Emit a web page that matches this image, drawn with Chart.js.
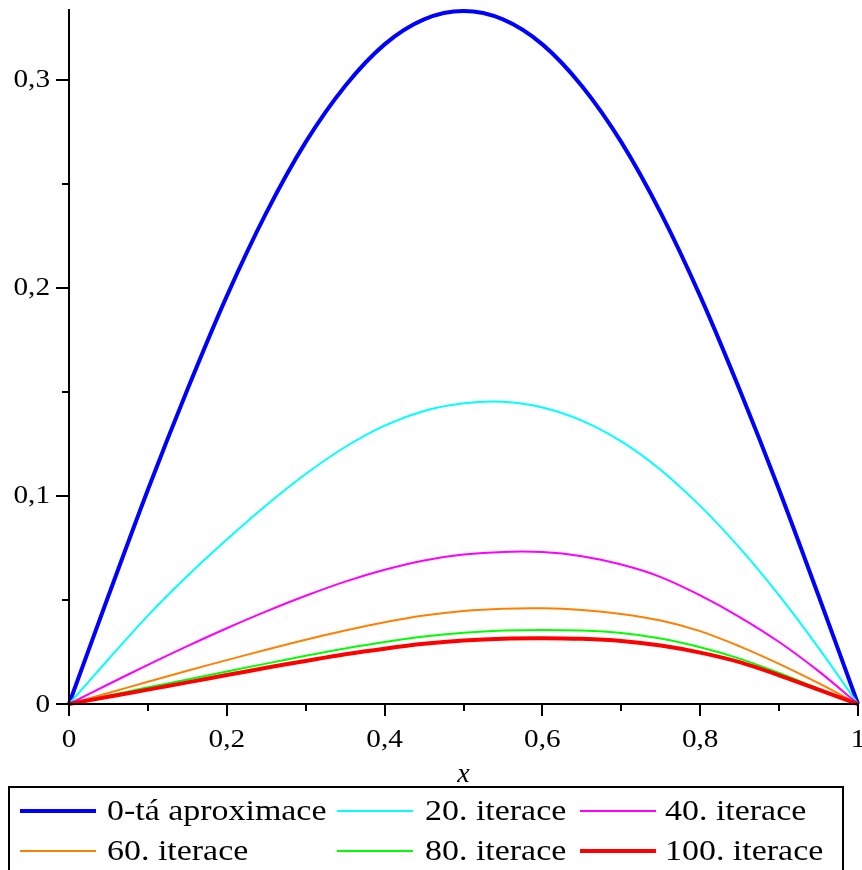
<!DOCTYPE html>
<html>
<head>
<meta charset="utf-8">
<script src="https://cdn.jsdelivr.net/npm/chart.js@4/dist/chart.umd.min.js"></script>
<style>
  html, body { margin: 0; padding: 0; background: #ffffff; }
  #wrap { width: 862px; height: 870px; position: relative; }
</style>
</head>
<body>
<div id="wrap"><canvas id="c" width="862" height="870"></canvas></div>
<script>
// ---- data ----
const xValues = [0, 0.05, 0.1, 0.15, 0.2, 0.25, 0.3, 0.35, 0.4, 0.45, 0.5, 0.55, 0.6, 0.65, 0.7, 0.75, 0.8, 0.85, 0.9, 0.95, 1];
const approx0  = [0, 0.052, 0.103, 0.151, 0.196, 0.236, 0.270, 0.297, 0.317, 0.329, 0.333, 0.329, 0.317, 0.297, 0.270, 0.236, 0.196, 0.151, 0.103, 0.052, 0];
const iter20   = [0, 0.0215, 0.0425, 0.0615, 0.0790, 0.0955, 0.1105, 0.1235, 0.1338, 0.1408, 0.1445, 0.1452, 0.1425, 0.1362, 0.1262, 0.1125, 0.0952, 0.0750, 0.0522, 0.0270, 0];
const iter40   = [0, 0.0095, 0.0188, 0.0278, 0.0364, 0.0445, 0.0520, 0.0588, 0.0645, 0.0690, 0.0718, 0.0731, 0.0730, 0.0710, 0.0670, 0.0610, 0.0522, 0.0418, 0.0298, 0.0158, 0];
const iter60   = [0, 0.0053, 0.0107, 0.0160, 0.0211, 0.0261, 0.0309, 0.0353, 0.0393, 0.0425, 0.0447, 0.0458, 0.0460, 0.0452, 0.0433, 0.0401, 0.0350, 0.0277, 0.0193, 0.0100, 0];
const iter80   = [0, 0.0040, 0.0080, 0.0118, 0.0156, 0.0194, 0.0232, 0.0267, 0.0298, 0.0324, 0.0342, 0.0353, 0.0356, 0.0353, 0.0341, 0.0315, 0.0273, 0.0218, 0.0149, 0.0074, 0];
const iter100  = [0, 0.0035, 0.0069, 0.0104, 0.0139, 0.0174, 0.0207, 0.0239, 0.0266, 0.0289, 0.0305, 0.0314, 0.0316, 0.0313, 0.0303, 0.0281, 0.0247, 0.0201, 0.0138, 0.0069, 0];
const seriesLabels = ["0-tá aproximace", "20. iterace", "40. iterace", "60. iterace", "80. iterace", "100. iterace"];
const xTickValues = [0, 0.2, 0.4, 0.6, 0.8, 1];
const xTickLabels = ["0", "0,2", "0,4", "0,6", "0,8", "1"];
const xMinorTicks = [0.1, 0.3, 0.5, 0.7, 0.9];
const yTickValues = [0, 0.1, 0.2, 0.3];
const yTickLabels = ["0", "0,1", "0,2", "0,3"];
const yMinorTicks = [0.05, 0.15, 0.25];
const xAxisTitle = "x";

const colors = ["#0000ff", "#00ffff", "#ff00ff", "#ff8000", "#00ff00", "#ff0000"];
const widths = [4, 2, 2, 2, 2, 4];
const seriesValues = [approx0, iter20, iter40, iter60, iter80, iter100];

const datasets = seriesValues.map((vals, i) => ({
  label: seriesLabels[i],
  data: xValues.map((x, j) => ({ x: x, y: vals[j] })),
  borderColor: colors[i],
  backgroundColor: colors[i],
  borderWidth: widths[i],
  pointRadius: 0,
  fill: false,
  tension: 0.33,
  clip: false,
  order: 6 - i
}));

const SERIF = '"Liberation Serif", "Times New Roman", serif';
const STRETCH = 1.17;

function stretchText(ctx, text, x, y, align) {
  ctx.save();
  const w = ctx.measureText(text).width * STRETCH;
  let left = x;
  if (align === 'center') left = x - w / 2;
  else if (align === 'right') left = x - w;
  ctx.translate(left, y);
  ctx.scale(STRETCH, 1);
  ctx.textAlign = 'left';
  ctx.fillText(text, 0, 0);
  ctx.restore();
}

const axesPlugin = {
  id: 'mapleAxes',
  afterDatasetsDraw(chart) {
    const ctx = chart.ctx;
    const xs = chart.scales.x, ys = chart.scales.y;
    const x0 = xs.getPixelForValue(0), x1 = xs.getPixelForValue(1);
    const y0 = ys.getPixelForValue(0), yTop = ys.getPixelForValue(ys.max);
    ctx.save();
    ctx.strokeStyle = '#000';
    ctx.lineWidth = 2;
    ctx.lineCap = 'butt';
    ctx.beginPath();
    ctx.moveTo(x0, yTop); ctx.lineTo(x0, y0 + 1);
    ctx.moveTo(x0 - 1, y0); ctx.lineTo(x1 + 1, y0);
    ctx.stroke();
    ctx.beginPath();
    xTickValues.forEach(v => { const p = Math.round(xs.getPixelForValue(v)); ctx.moveTo(p, y0); ctx.lineTo(p, y0 + 12); });
    xMinorTicks.forEach(v => { const p = Math.round(xs.getPixelForValue(v)); ctx.moveTo(p, y0); ctx.lineTo(p, y0 + 7); });
    yTickValues.forEach(v => { const p = Math.round(ys.getPixelForValue(v)); ctx.moveTo(x0, p); ctx.lineTo(x0 - 13, p); });
    yMinorTicks.forEach(v => { const p = Math.round(ys.getPixelForValue(v)); ctx.moveTo(x0, p); ctx.lineTo(x0 - 7, p); });
    ctx.stroke();
    ctx.fillStyle = '#000';
    ctx.font = '25px ' + SERIF;
    ctx.textBaseline = 'alphabetic';
    xTickValues.forEach((v, i) => stretchText(ctx, xTickLabels[i], xs.getPixelForValue(v), 747, 'center'));
    ctx.textBaseline = 'middle';
    yTickValues.forEach((v, i) => stretchText(ctx, yTickLabels[i], 50, ys.getPixelForValue(v) + 1, 'right'));
    ctx.font = 'italic 28px ' + SERIF;
    ctx.textAlign = 'center';
    ctx.textBaseline = 'alphabetic';
    ctx.fillText(xAxisTitle, (x0 + x1) / 2, 782);
    ctx.lineWidth = 2;
    ctx.strokeRect(9, 787, 834, 100);
    const cols = [{lx: 20, tx: 107}, {lx: 337, tx: 425}, {lx: 580, tx: 665}];
    const rows = [811, 851];
    ctx.font = '29px ' + SERIF;
    ctx.textBaseline = 'middle';
    chart.data.datasets.forEach((ds, i) => {
      const c = cols[i % 3], r = rows[Math.floor(i / 3)];
      ctx.strokeStyle = ds.borderColor;
      ctx.lineWidth = ds.borderWidth;
      ctx.beginPath();
      ctx.moveTo(c.lx, r); ctx.lineTo(c.lx + 76, r);
      ctx.stroke();
      ctx.fillStyle = '#000';
      stretchText(ctx, ds.label, c.tx, r + 1, 'left');
    });
    ctx.restore();
  }
};

new Chart(document.getElementById('c'), {
  type: 'line',
  data: { datasets: datasets },
  options: {
    responsive: false,
    animation: false,
    layout: { padding: { left: 69, right: 4, top: 9, bottom: 166 } },
    plugins: { legend: { display: false }, tooltip: { enabled: false } },
    scales: {
      x: { type: 'linear', min: 0, max: 1, display: false },
      y: { type: 'linear', min: 0, max: 0.334, display: false }
    }
  },
  plugins: [axesPlugin]
});
</script>
</body>
</html>
